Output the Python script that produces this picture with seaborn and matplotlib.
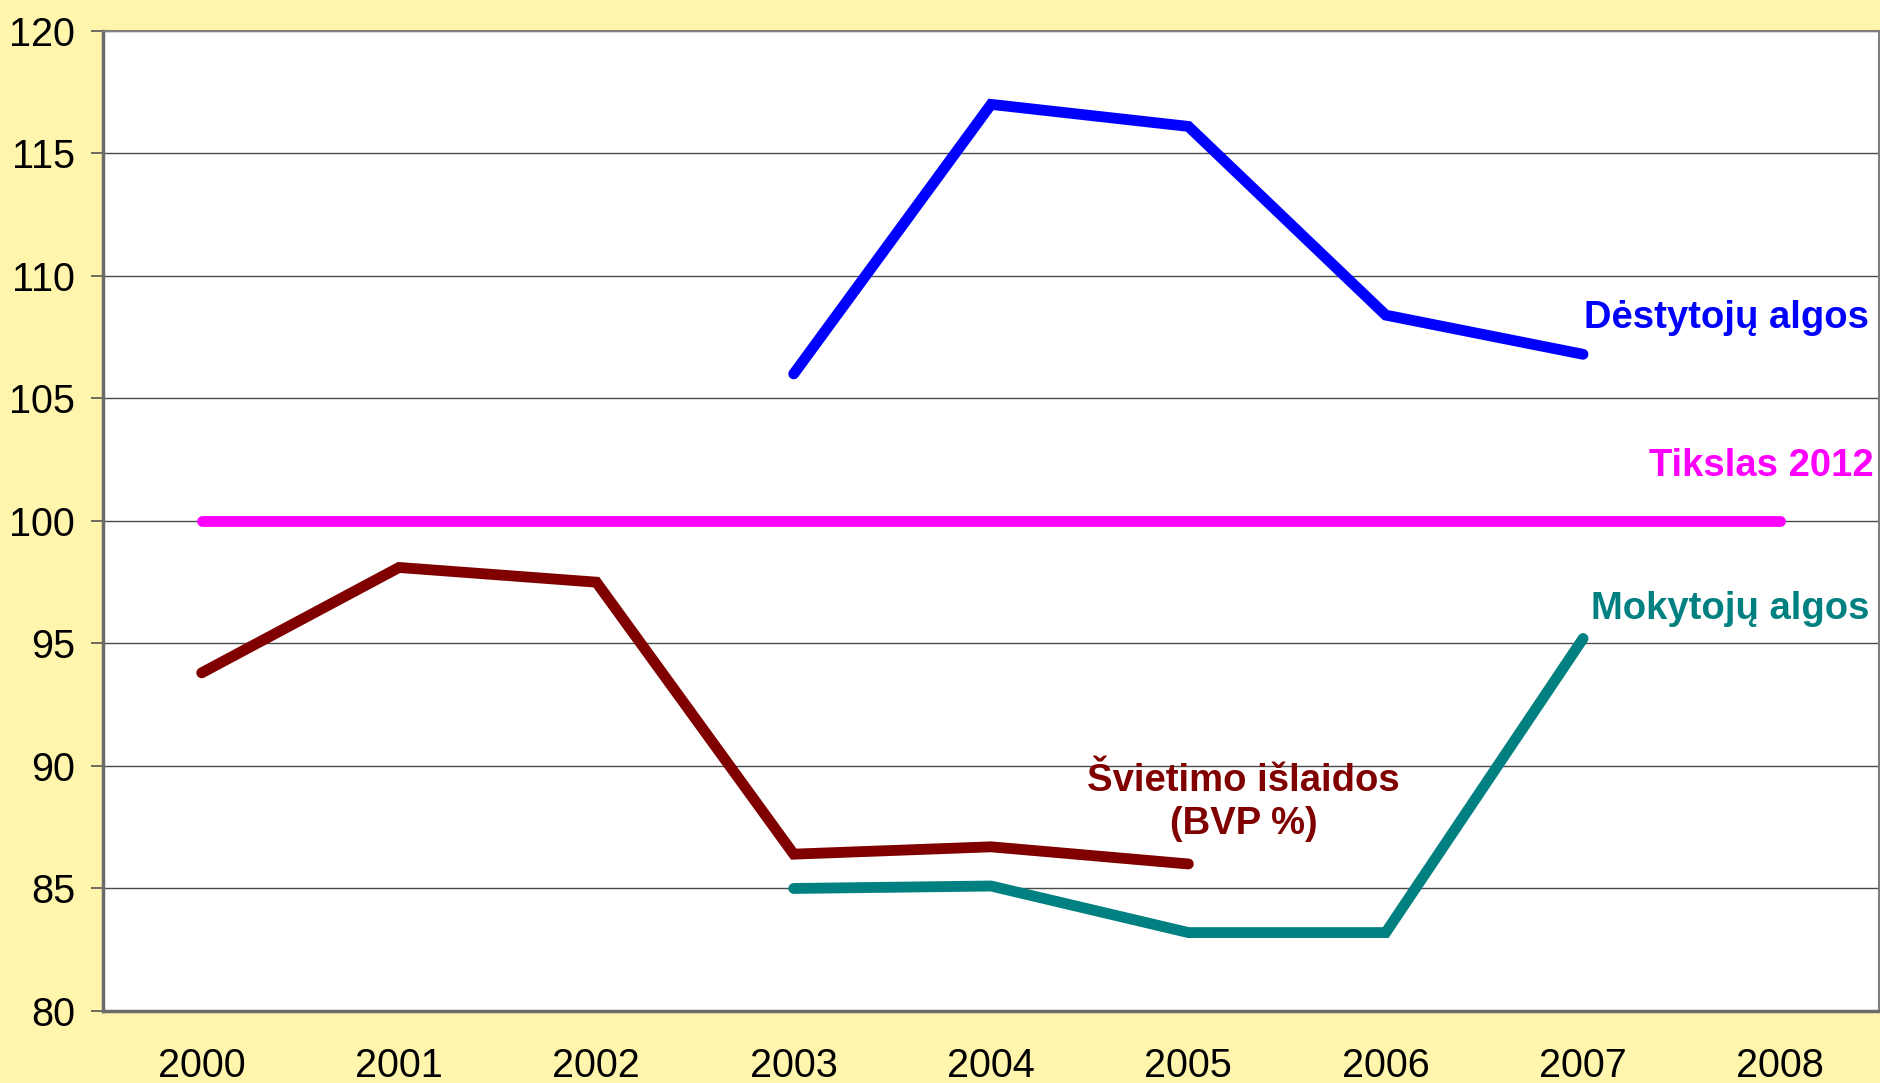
import matplotlib
matplotlib.use("Agg")
import matplotlib.pyplot as plt
import seaborn as sns
import pandas as pd

# data
years = [2000, 2001, 2002, 2003, 2004, 2005, 2006, 2007, 2008]
destytoju_years = [2003, 2004, 2005, 2006, 2007]
destytoju = [106.0, 117.0, 116.1, 108.4, 106.8]
tikslas_years = years
tikslas = [100, 100, 100, 100, 100, 100, 100, 100, 100]
svietimo_years = [2000, 2001, 2002, 2003, 2004, 2005]
svietimo = [93.8, 98.1, 97.5, 86.4, 86.7, 86.0]
mokytoju_years = [2003, 2004, 2005, 2006, 2007]
mokytoju = [85.0, 85.1, 83.2, 83.2, 95.2]

sns.set_style("white")
plt.rcParams['font.family'] = ['Liberation Sans', 'DejaVu Sans']

bg = "#FFF5AD"
fig = plt.figure(figsize=(18.8, 10.83), dpi=100, facecolor=bg)
ax = fig.add_axes([0.0548, 0.0665, 0.9447, 0.905])
ax.set_facecolor("white")

series = [
    (destytoju_years, destytoju, "#0000FF"),
    (tikslas_years, tikslas, "#FF00FF"),
    (svietimo_years, svietimo, "#800000"),
    (mokytoju_years, mokytoju, "#008080"),
]
for xs, ys, c in series:
    d = pd.DataFrame({"year": xs, "value": ys})
    sns.lineplot(data=d, x="year", y="value", ax=ax, color=c, linewidth=7.8,
                 solid_capstyle="round", solid_joinstyle="miter", zorder=3)

ax.set_xlim(1999.5, 2008.5)
ax.set_ylim(80, 120)
ax.set_yticks(range(80, 121, 5))
ax.set_xticks(years)
ax.set_xticks([y + 0.5 for y in [1999] + years], minor=True)
ax.tick_params(axis="x", which="major", length=0, pad=26, labelsize=28.5, labelcolor="black")
ax.tick_params(axis="x", which="minor", length=10, width=1.2, color="#555555")
ax.tick_params(axis="y", length=9, width=1.2, color="#555555", labelsize=28.5, pad=11,
               left=True, labelcolor="black")
ax.grid(axis="y", color="#4a4a4a", linewidth=1.0)
ax.set_xlabel("")
ax.set_ylabel("")

for side in ["left", "bottom"]:
    ax.spines[side].set_color("#6b6b6b")
    ax.spines[side].set_linewidth(2.5)
for side in ["top", "right"]:
    ax.spines[side].set_color("#808080")
    ax.spines[side].set_linewidth(1.5)

lab = dict(fontsize=27.5, fontweight="bold")
ax.text(2008.45, 108.3, "Dėstytojų algos", color="#0000FF", ha="right", va="center", **lab)
ax.text(2008.47, 102.25, "Tikslas 2012", color="#FF00FF", ha="right", va="center", **lab)
ax.text(2008.45, 96.4, "Mokytojų algos", color="#008080", ha="right", va="center", **lab)
ax.text(2005.28, 88.5, "Švietimo išlaidos\n(BVP %)", color="#800000", ha="center",
        va="center", linespacing=1.25, **lab)

fig.savefig("out.png", dpi=100, facecolor=bg)
